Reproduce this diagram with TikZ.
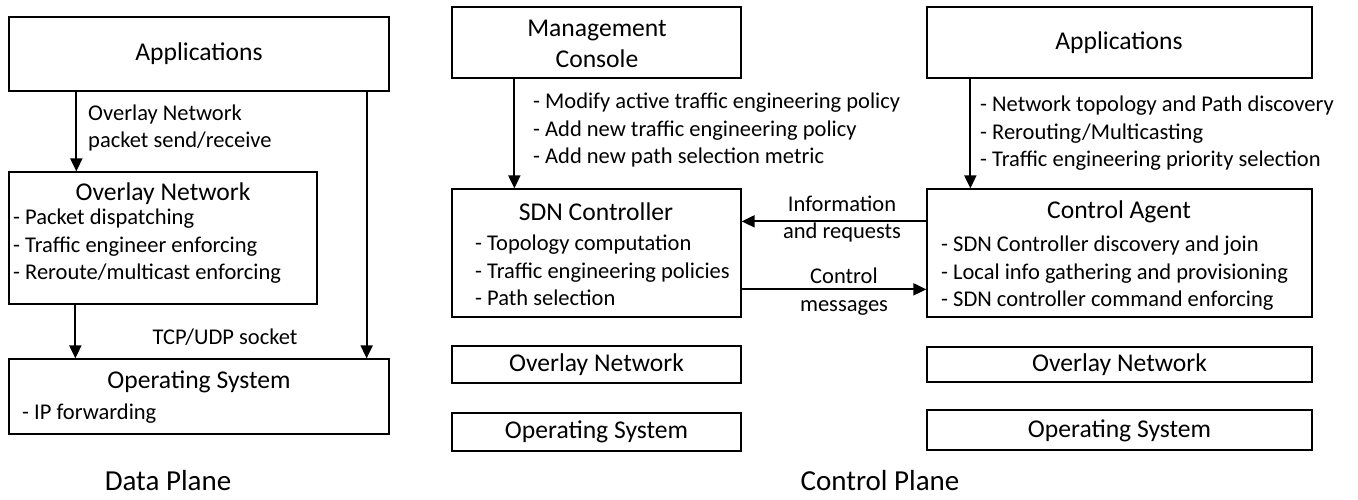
\documentclass[tikz,border=0pt]{standalone}
\usepackage{fontspec}
\setmainfont{Carlito}
\usetikzlibrary{arrows.meta}

\tikzset{
  box/.style={draw, line width=1.3pt, inner sep=0pt},
  big/.style={inner sep=0pt, align=center, font=\fontsize{25.6}{31}\selectfont},
  small/.style={inner sep=0pt, align=left, font=\fontsize{22.5}{27.5}\selectfont},
  plane/.style={inner sep=0pt, font=\fontsize{29}{34}\selectfont},
  arr/.style={line width=2pt, -{Triangle[length=13pt, width=12pt]}}
}

\begin{document}
\begin{tikzpicture}[x=1pt, y=-1pt]
  \useasboundingbox (0,0) rectangle (1358,499);

  % data plane
  \node[box, minimum width=380pt, minimum height=74pt] (lapp) at (199,54) {};
  \node[box, minimum width=308pt, minimum height=132pt] (lovl) at (163,238) {};
  \node[box, minimum width=380pt, minimum height=75pt] (los) at (199,396.5) {};
  \node[big] (lappt) at (199,54) {Applications};
  \node[big] (lovlt) at (163,194) {Overlay Network};
  \node[small, anchor=west] (lovli) at (13,246.5) {- Packet dispatching\\- Traffic engineer enforcing\\- Reroute/multicast enforcing};
  \node[big] (lost) at (199,382) {Operating System};
  \node[small, anchor=west] (losi) at (22,414) {- IP forwarding};
  \draw[arr] ([xshift=68pt]lapp.south west) -- ([xshift=68pt]lovl.north west);
  \draw[arr] ([xshift=67pt]lovl.south west) -- ([xshift=67pt]los.north west);
  \draw[arr] ([xshift=-23pt]lapp.south east) -- ([xshift=-23pt]los.north east);
  \node[small, anchor=west] (sendlbl) at (88,128) {Overlay Network\\packet send/receive};
  \node[small] (socklbl) at (225,337) {TCP/UDP socket};
  \node[plane] (dplane) at (168,481) {Data Plane};

  % control plane, controller side
  \node[box, minimum width=289pt, minimum height=71pt] (mgmt) at (596.5,42.5) {};
  \node[box, minimum width=289pt, minimum height=128pt] (sdn) at (596.5,253) {};
  \node[box, minimum width=289pt, minimum height=37pt] (movl) at (596.5,364.5) {};
  \node[box, minimum width=289pt, minimum height=38pt] (mos) at (596.5,432) {};
  \node[big] (mgmtt) at (597,43.5) {Management\\Console};
  \node[big] (sdnt) at (596,212) {SDN Controller};
  \node[small, anchor=west] (sdni) at (475,270.5) {- Topology computation\\- Traffic engineering policies\\- Path selection};
  \node[big] (movlt) at (596.5,365) {Overlay Network};
  \node[big] (most) at (596.5,432) {Operating System};
  \draw[arr] ([xshift=63pt]mgmt.south west) -- ([xshift=63pt]sdn.north west);
  \node[small, anchor=west] (policylbl) at (533,130) {- Modify active traffic engineering policy\\- Add new traffic engineering policy\\- Add new path selection metric};

  % control plane, agent side
  \node[box, minimum width=385pt, minimum height=71pt] (rapp) at (1119.5,42.5) {};
  \node[box, minimum width=385pt, minimum height=128pt] (agent) at (1119.5,253) {};
  \node[box, minimum width=385pt, minimum height=35pt] (rovl) at (1119.5,364.5) {};
  \node[box, minimum width=385pt, minimum height=40pt] (ros) at (1119.5,430) {};
  \node[big] (rappt) at (1119,43) {Applications};
  \node[big] (agentt) at (1119,212) {Control Agent};
  \node[small, anchor=west] (agenti) at (941,273.5) {- SDN Controller discovery and join\\- Local info gathering and provisioning\\- SDN controller command enforcing};
  \node[big] (rovlt) at (1119.5,365) {Overlay Network};
  \node[big] (rost) at (1119.5,431) {Operating System};
  \draw[arr] ([xshift=44pt]rapp.south west) -- ([xshift=44pt]agent.north west);
  \node[small, anchor=west] (discolbl) at (980,133.5) {- Network topology and Path discovery\\- Rerouting/Multicasting\\- Traffic engineering priority selection};

  % between controller and agent
  \draw[arr] ([yshift=-33pt]agent.north west) -- ([yshift=-33pt]sdn.north east);
  \draw[arr] ([yshift=-101pt]sdn.north east) -- ([yshift=-101pt]agent.north west);
  \node[small, align=center] (infolbl) at (842,219) {Information\\and requests};
  \node[small, align=center] (ctrllbl) at (844,291.5) {Control\\messages};
  \node[plane] (cplane) at (880,481) {Control Plane};
\end{tikzpicture}
\end{document}
